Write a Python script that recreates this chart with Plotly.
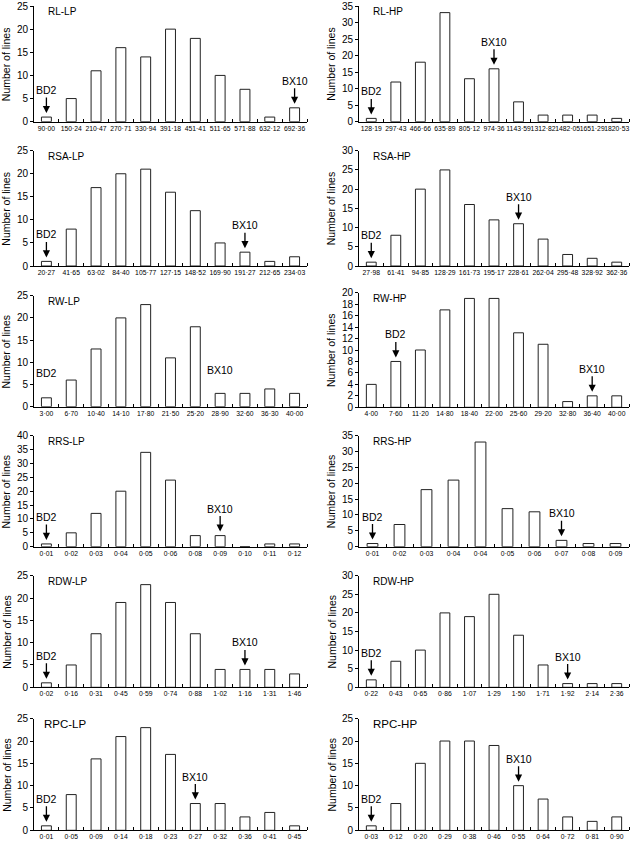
import plotly.graph_objects as go

# ---------------- data ----------------
rl_lp_labels = ["90·00", "150·24", "210·47", "270·71", "330·94", "391·18", "451·41", "511·65", "571·88", "632·12", "692·36"]
rl_lp_counts = [1, 5, 11, 16, 14, 20, 18, 10, 7, 1, 3]

rl_hp_labels = ["128·19", "297·43", "466·66", "635·89", "805·12", "974·36", "1143·59", "1312·82", "1482·05", "1651·29", "1820·53"]
rl_hp_counts = [1, 12, 18, 33, 13, 16, 6, 2, 2, 2, 1]

rsa_lp_labels = ["20·27", "41·65", "63·02", "84·40", "105·77", "127·15", "148·52", "169·90", "191·27", "212·65", "234·03"]
rsa_lp_counts = [1, 8, 17, 20, 21, 16, 12, 5, 3, 1, 2]

rsa_hp_labels = ["27·98", "61·41", "94·85", "128·29", "161·73", "195·17", "228·61", "262·04", "295·48", "328·92", "362·36"]
rsa_hp_counts = [1, 8, 20, 25, 16, 12, 11, 7, 3, 2, 1]

rw_lp_labels = ["3·00", "6·70", "10·40", "14·10", "17·80", "21·50", "25·20", "28·90", "32·60", "36·30", "40·00"]
rw_lp_counts = [2, 6, 13, 20, 23, 11, 18, 3, 3, 4, 3]

rw_hp_labels = ["4·00", "7·60", "11·20", "14·80", "18·40", "22·00", "25·60", "29·20", "32·80", "36·40", "40·00"]
rw_hp_counts = [4, 8, 10, 17, 19, 19, 13, 11, 1, 2, 2]

rrs_lp_labels = ["0·01", "0·02", "0·03", "0·04", "0·05", "0·06", "0·08", "0·09", "0·10", "0·11", "0·12"]
rrs_lp_counts = [1, 5, 12, 20, 34, 24, 4, 4, 0, 1, 1]

rrs_hp_labels = ["0·01", "0·02", "0·03", "0·04", "0·04", "0·05", "0·06", "0·07", "0·08", "0·09"]
rrs_hp_counts = [1, 7, 18, 21, 33, 12, 11, 2, 1, 1]

rdw_lp_labels = ["0·02", "0·16", "0·31", "0·45", "0·59", "0·74", "0·88", "1·02", "1·16", "1·31", "1·46"]
rdw_lp_counts = [1, 5, 12, 19, 23, 19, 12, 4, 4, 4, 3]

rdw_hp_labels = ["0·22", "0·43", "0·65", "0·86", "1·07", "1·29", "1·50", "1·71", "1·92", "2·14", "2·36"]
rdw_hp_counts = [2, 7, 10, 20, 19, 25, 14, 6, 1, 1, 1]

rpc_lp_labels = ["0·01", "0·05", "0·09", "0·14", "0·18", "0·23", "0·27", "0·32", "0·36", "0·41", "0·45"]
rpc_lp_counts = [1, 8, 16, 21, 23, 17, 6, 6, 3, 4, 1]

rpc_hp_labels = ["0·03", "0·12", "0·20", "0·29", "0·38", "0·46", "0·55", "0·64", "0·72", "0·81", "0·90"]
rpc_hp_counts = [1, 6, 15, 20, 20, 19, 10, 7, 3, 2, 3]

# index of the bar carrying the parent-line marker
bd2_index = {"RL-LP": 0, "RL-HP": 0, "RSA-LP": 0, "RSA-HP": 0, "RW-HP": 1, "RRS-LP": 0,
             "RRS-HP": 0, "RDW-LP": 0, "RDW-HP": 0, "RPC-LP": 0, "RPC-HP": 0}
bx10_index = {"RL-LP": 10, "RL-HP": 5, "RSA-LP": 8, "RSA-HP": 6, "RW-HP": 9, "RRS-LP": 7,
              "RRS-HP": 7, "RDW-LP": 8, "RDW-HP": 8, "RPC-LP": 6, "RPC-HP": 6}

# ---------------- layout config ----------------
W, H = 633, 841
FONT = "Liberation Sans"

panels = [
    dict(name="RL-LP", labels=rl_lp_labels, counts=rl_lp_counts, ymax=25, dtick=5, col=0, top=6, bot=121.7),
    dict(name="RL-HP", labels=rl_hp_labels, counts=rl_hp_counts, ymax=35, dtick=5, col=1, top=6, bot=121.7),
    dict(name="RSA-LP", labels=rsa_lp_labels, counts=rsa_lp_counts, ymax=25, dtick=5, col=0, top=150.7, bot=266),
    dict(name="RSA-HP", labels=rsa_hp_labels, counts=rsa_hp_counts, ymax=30, dtick=5, col=1, top=150.7, bot=266),
    dict(name="RW-LP", labels=rw_lp_labels, counts=rw_lp_counts, ymax=25, dtick=5, col=0, top=295.7, bot=406.7),
    dict(name="RW-HP", labels=rw_hp_labels, counts=rw_hp_counts, ymax=20, dtick=2, col=1, top=292.7, bot=407.3),
    dict(name="RRS-LP", labels=rrs_lp_labels, counts=rrs_lp_counts, ymax=40, dtick=5, col=0, top=435.7, bot=546.7),
    dict(name="RRS-HP", labels=rrs_hp_labels, counts=rrs_hp_counts, ymax=35, dtick=5, col=1, top=435.7, bot=546.7),
    dict(name="RDW-LP", labels=rdw_lp_labels, counts=rdw_lp_counts, ymax=25, dtick=5, col=0, top=575.7, bot=687.3),
    dict(name="RDW-HP", labels=rdw_hp_labels, counts=rdw_hp_counts, ymax=30, dtick=5, col=1, top=575.7, bot=687.3),
    dict(name="RPC-LP", labels=rpc_lp_labels, counts=rpc_lp_counts, ymax=25, dtick=5, col=0, top=718.7, bot=830.3),
    dict(name="RPC-HP", labels=rpc_hp_labels, counts=rpc_hp_counts, ymax=25, dtick=5, col=1, top=718.7, bot=830.3),
]

col_x = [(34, 307), (359, 629)]
ytitle_x = [6.3, 331]

fig = go.Figure()
annotations = []
layout = {}

for i, p in enumerate(panels, start=1):
    xa = "x" if i == 1 else f"x{i}"
    ya = "y" if i == 1 else f"y{i}"
    xk = "xaxis" if i == 1 else f"xaxis{i}"
    yk = "yaxis" if i == 1 else f"yaxis{i}"
    n = len(p["labels"])
    idx = list(range(n))

    fig.add_trace(go.Bar(
        x=idx, y=p["counts"], xaxis=xa, yaxis=ya, width=0.4,
        marker=dict(color="white", line=dict(color="#222", width=1)),
        hoverinfo="skip", showlegend=False,
    ))

    x0, x1 = col_x[p["col"]]
    layout[xk] = dict(
        domain=[x0 / W, x1 / W], anchor=ya, range=[-0.5, n - 0.5],
        tickmode="array", tickvals=idx, ticktext=p["labels"], ticks="",
        tickangle=0, tickfont=dict(size=6.8, family=FONT, color="black"),
        showline=True, linecolor="black", linewidth=1, showgrid=False, zeroline=False,
        minor=dict(tickmode="array", tickvals=[k + 0.5 for k in range(n)],
                   ticks="inside", ticklen=3, tickcolor="black", tickwidth=1, showgrid=False),
        automargin=False, fixedrange=True,
    )
    layout[yk] = dict(
        domain=[1 - p["bot"] / H, 1 - p["top"] / H], anchor=xa,
        range=[0, p["ymax"]], dtick=p["dtick"], tick0=0,
        ticks="outside", ticklen=3, tickcolor="black", tickwidth=1,
        tickfont=dict(size=10, family=FONT, color="black"),
        showline=True, linecolor="black", linewidth=1, showgrid=False, zeroline=False,
        automargin=False, fixedrange=True,
    )

    big = p["name"].startswith("RPC")
    annotations.append(dict(
        text=p["name"], xref=f"{xa} domain", yref=f"{ya} domain",
        x=0.028 if (big and p["col"] == 0) else 0.045, y=0.95, xanchor="left", yanchor="middle",
        showarrow=False, font=dict(size=11.5 if big else 10, family=FONT, color="black"),
    ))
    annotations.append(dict(
        text="Number of lines", xref="paper", yref=f"{ya} domain",
        x=ytitle_x[p["col"]] / W, y=0.5, xanchor="center", yanchor="middle",
        textangle=-90, showarrow=False, font=dict(size=10.5, family=FONT, color="black"),
    ))

    if p["name"] == "RW-LP":
        # labels without arrows
        annotations.append(dict(text="BD2", xref=xa, yref=ya, x=0, y=7.6, showarrow=False,
                                font=dict(size=10.5, family=FONT, color="black")))
        annotations.append(dict(text="BX10", xref=xa, yref=ya, x=7, y=8.3, showarrow=False,
                                font=dict(size=10.5, family=FONT, color="black")))
    else:
        for lab, k in (("BD2", bd2_index[p["name"]]), ("BX10", bx10_index[p["name"]])):
            annotations.append(dict(
                text=lab, xref=xa, yref=ya, x=k, y=p["counts"][k],
                showarrow=True, ax=0, ay=-27, arrowhead=2, arrowsize=1.1, arrowwidth=1.3,
                arrowcolor="black", standoff=4,
                font=dict(size=10.5, family=FONT, color="black"),
            ))

fig.update_layout(
    width=W, height=H, margin=dict(l=0, r=0, t=0, b=0),
    paper_bgcolor="white", plot_bgcolor="white", showlegend=False,
    bargap=0.6, annotations=annotations, font=dict(family=FONT, color="black"),
    **layout,
)

fig.write_html(
    "out.html",
    config={"displayModeBar": False},
    post_script="document.body.style.margin='0';document.body.style.overflow='hidden';",
)
